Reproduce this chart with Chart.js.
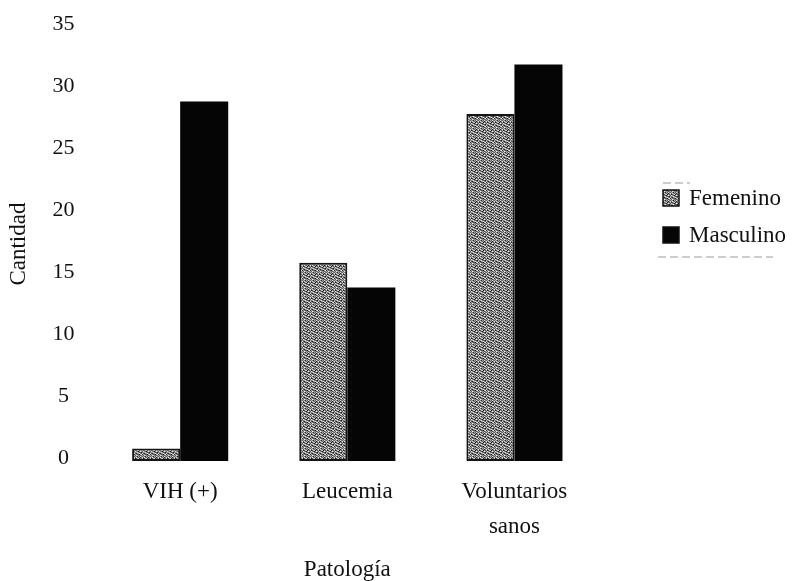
<!DOCTYPE html>
<html>
<head>
<meta charset="utf-8">
<script src="https://cdn.jsdelivr.net/npm/chart.js@4/dist/chart.umd.min.js"></script>
<style>
  html, body { margin: 0; padding: 0; background: #ffffff; }
  #wrap { width: 798px; height: 581px; }
</style>
</head>
<body>
<div id="wrap"><canvas id="chart" width="798" height="581"></canvas></div>
<script>
// Categories and counts per sex
const categories = ['VIH (+)', 'Leucemia', ['Voluntarios', 'sanos']];
const femenino = [1, 16, 28];
const masculino = [29, 14, 32];
const yTicks = { min: 0, max: 35, step: 5 };

const serif = "'Liberation Serif', 'Times New Roman', serif";

// Mottled grey fill for the "Femenino" series
function makeStipple() {
  const c = document.createElement('canvas');
  c.width = 8; c.height = 8;
  const g = c.getContext('2d');
  const tones = ['#1c1c1c', '#575757', '#828282', '#aeaeae', '#e8e8e8'];
  const grid = [
    [2, 0, 3, 1, 4, 2, 1, 3],
    [4, 2, 1, 3, 0, 2, 4, 1],
    [1, 3, 4, 0, 2, 1, 3, 0],
    [2, 1, 0, 2, 4, 3, 1, 4],
    [3, 4, 2, 1, 1, 0, 2, 2],
    [0, 2, 3, 4, 2, 1, 4, 1],
    [2, 1, 1, 0, 3, 4, 0, 3],
    [4, 3, 2, 2, 1, 2, 3, 1]
  ];
  grid.forEach((row, y) => row.forEach((v, x) => {
    g.fillStyle = tones[v];
    g.fillRect(x, y, 1, 1);
  }));
  return g.createPattern(c, 'repeat');
}
const stipple = makeStipple();

// Legend drawn at the right of the plot, box + label per dataset
const sideLegend = {
  id: 'sideLegend',
  afterDraw(chart, args, opts) {
    const ctx = chart.ctx;
    ctx.save();
    chart.data.datasets.forEach((ds, i) => {
      const y = opts.top + i * opts.spacing;
      ctx.fillStyle = ds.backgroundColor;
      ctx.fillRect(opts.left, y - opts.box / 2, opts.box, opts.box);
      ctx.strokeStyle = '#111';
      ctx.lineWidth = 1.5;
      ctx.strokeRect(opts.left, y - opts.box / 2, opts.box, opts.box);
      ctx.fillStyle = '#111';
      ctx.font = opts.font;
      ctx.textAlign = 'left';
      ctx.textBaseline = 'middle';
      ctx.fillText(ds.label, opts.left + opts.box + 10, y + 1);
    });
    // faint dashed frame edges
    ctx.strokeStyle = '#9a9a9a';
    ctx.lineWidth = 1;
    ctx.setLineDash([8, 4]);
    ctx.beginPath();
    ctx.moveTo(opts.left, opts.top - 15);
    ctx.lineTo(opts.left + 27, opts.top - 15);
    ctx.moveTo(opts.left - 5, opts.top + opts.spacing + 22);
    ctx.lineTo(opts.left + 110, opts.top + opts.spacing + 22);
    ctx.stroke();
    ctx.restore();
  }
};

new Chart(document.getElementById('chart'), {
  type: 'bar',
  data: {
    labels: categories,
    datasets: [
      {
        label: 'Femenino',
        data: femenino,
        backgroundColor: stipple,
        borderColor: '#151515',
        borderWidth: 2,
        borderSkipped: false
      },
      {
        label: 'Masculino',
        data: masculino,
        backgroundColor: '#050505',
        borderWidth: 0
      }
    ]
  },
  options: {
    responsive: false,
    devicePixelRatio: 1,
    animation: false,
    layout: { padding: { top: 27, left: 0, right: 200, bottom: 0 } },
    datasets: {
      bar: { barPercentage: 1, categoryPercentage: 0.575 }
    },
    plugins: {
      legend: { display: false },
      tooltip: { enabled: false },
      sideLegend: { left: 663, top: 198, spacing: 37, box: 16, font: '23px ' + serif }
    },
    scales: {
      x: {
        grid: { display: false },
        border: { display: false },
        ticks: {
          color: '#111',
          padding: 6,
          maxRotation: 0,
          font: { family: serif, size: 23, lineHeight: 1.5 }
        },
        title: {
          display: true,
          text: 'Patología',
          color: '#111',
          padding: { top: 8, bottom: 0 },
          font: { family: serif, size: 23, lineHeight: 1 }
        }
      },
      y: {
        min: yTicks.min,
        max: yTicks.max,
        grid: { display: false },
        border: { display: false },
        ticks: {
          stepSize: yTicks.step,
          color: '#111',
          padding: 14,
          labelOffset: -3,
          crossAlign: 'center',
          font: { family: serif, size: 22 }
        },
        title: {
          display: true,
          text: 'Cantidad',
          color: '#111',
          padding: { top: 5, bottom: 6 },
          font: { family: serif, size: 23 }
        }
      }
    }
  },
  plugins: [sideLegend]
});
</script>
</body>
</html>
